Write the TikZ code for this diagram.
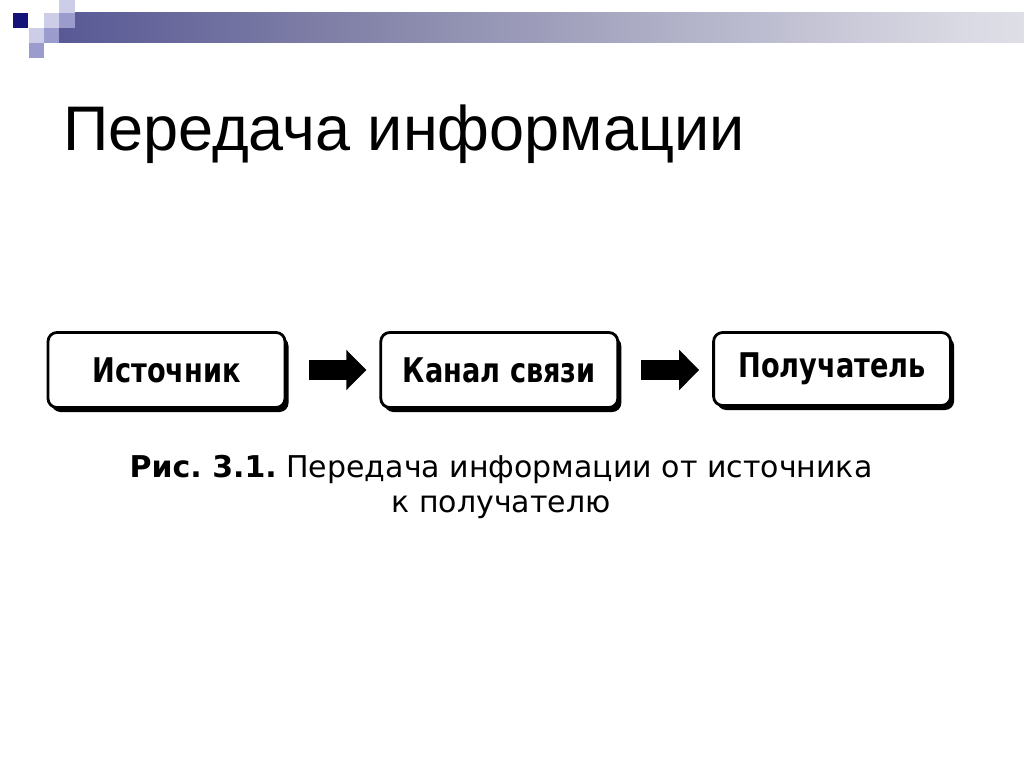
\documentclass[tikz,border=0pt]{standalone}
\usepackage{fontspec}
\setmainfont{Liberation Sans}
\newfontfamily\boxfont[FakeStretch=0.8]{DejaVu Sans}
\newfontfamily\capfont{DejaVu Sans}
\usepackage{tikz}
\usetikzlibrary{positioning,shadows,arrows.meta}
\definecolor{headnavy}{RGB}{20,20,120}
\definecolor{barmid}{RGB}{130,130,168}
\definecolor{barlight}{RGB}{218,218,228}
\definecolor{lightlav}{RGB}{205,205,232}
\definecolor{midlav}{RGB}{155,155,205}
\pgfdeclarehorizontalshading{headbar}{100bp}{color(0bp)=(headnavy); color(40bp)=(barmid); color(72bp)=(barlight); color(100bp)=(white)}
\frenchspacing

\begin{document}
\begin{tikzpicture}[x=1pt, y=-1pt, node distance=93pt,
    stage/.style = {draw, line width=2.8pt, rounded corners=9pt, fill=white,
        minimum width=237pt, minimum height=75pt, inner sep=0pt,
        text height=24pt, text depth=0pt,
        font=\boxfont\bfseries\fontsize{34}{40}\selectfont,
        drop shadow={shadow xshift=3.5pt, shadow yshift=-4.5pt, fill=black, opacity=1}},
    blockarrow/.style = {line width=20pt, -{Triangle[length=20pt, width=39pt]}}]
    \useasboundingbox (0,0) rectangle (1024,767);
    % header band
    \shade[shading=headbar] (59,13) rectangle (1024,43);
    \fill[headnavy] (13,13) rectangle (28,28);
    \fill[lightlav] (59,0) rectangle (75,13);
    \fill[midlav] (59,13) rectangle (75,28);
    \fill[lightlav] (44,13) rectangle (59,28);
    \fill[midlav] (44,28) rectangle (59,43);
    \fill[lightlav] (29,28) rectangle (44,43);
    \fill[midlav] (29,43) rectangle (44,58);
    \node[anchor=base west, inner sep=0pt, font=\fontsize{63}{70}\selectfont] (title) at (63,151) {Передача информации};

    \node[stage] (src) at (166.5,370) {Источник};
    \node[stage] (chan) [right=of src] {Канал связи};
    \node[stage, minimum height=73pt, text depth=7pt, yshift=1pt] (dst) [right=of chan] {Получатель};

    \draw[blockarrow] ([xshift=23pt]src.east) -- ([xshift=-13pt]chan.west);
    \draw[blockarrow] ([xshift=22pt]chan.east) -- ([xshift=-13pt]dst.west |- chan.west);

    \node[align=center, anchor=base, inner sep=0pt, font=\capfont\fontsize{30}{35}\selectfont] (cap) at (501,512)
        {\textbf{Рис. 3.1.} Передача информации от источника\\к получателю};
\end{tikzpicture}
\end{document}
